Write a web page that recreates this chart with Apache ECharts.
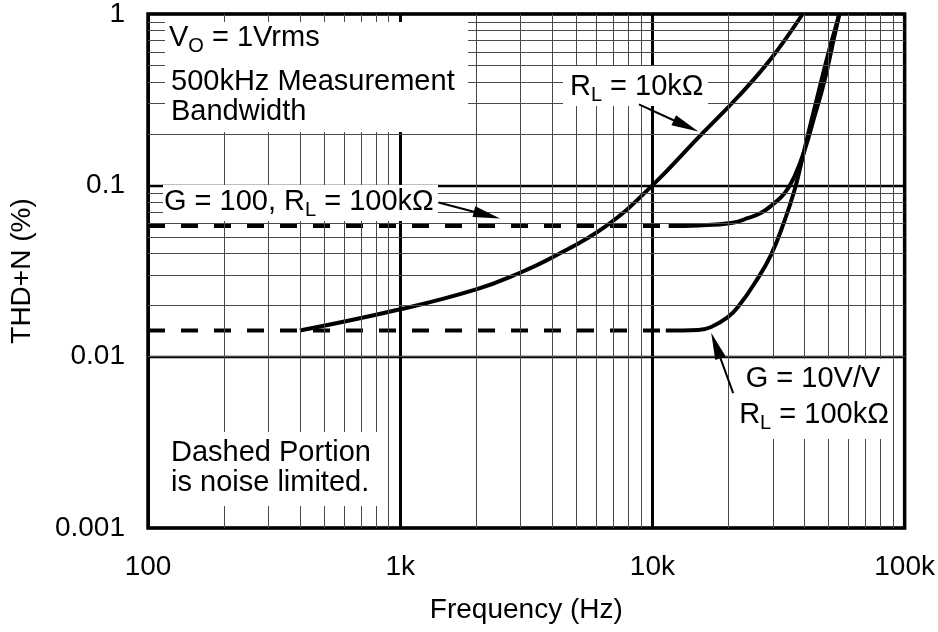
<!DOCTYPE html>
<html>
<head>
<meta charset="utf-8">
<script src="https://cdn.jsdelivr.net/npm/echarts@6/dist/echarts.min.js"></script>
<style>html,body{margin:0;padding:0;background:#fff}#c{width:938px;height:632px}</style>
</head>
<body>
<div id="c"></div>
<script>
// ---- axis ticks ----
const xTickValues = [100, 1000, 10000, 100000];
const xTickLabels = ['100', '1k', '10k', '100k'];
const yTickValues = [0.001, 0.01, 0.1, 1];
const yTickLabels = ['0.001', '0.01', '0.1', '1'];
const xMinorGrid = [200,300,400,500,600,700,800,900, 2000,3000,4000,5000,6000,7000,8000,9000, 20000,30000,40000,50000,60000,70000,80000,90000];
const yMinorGrid = [0.002,0.003,0.004,0.005,0.006,0.007,0.008,0.009, 0.02,0.03,0.04,0.05,0.06,0.07,0.08,0.09, 0.2,0.3,0.4,0.5,0.6,0.7,0.8,0.9];

// ---- series data: [frequency Hz, THD+N %] ----
const rl10kSolid = [[400,0.0142],[1000,0.0189],[2000,0.0247],[3000,0.031],[4000,0.0379],[6560,0.058],[10000,0.1],[15200,0.19],[21900,0.33],[29500,0.548],[39400,1.0]];
const g100Dashed = [[100,0.0578],[11600,0.0578]];
const g100Solid = [[11600,0.0578],[15200,0.0583],[20500,0.0603],[24000,0.0645],[26900,0.069],[29500,0.0758],[33500,0.0902],[36600,0.113],[40100,0.160],[43900,0.252],[48100,0.408],[52600,0.735],[55100,1.0]];
const g10Dashed = [[100,0.0142],[11300,0.0142]];
const g10Solid = [[11300,0.0142],[15200,0.0143],[17100,0.0149],[19900,0.0170],[21900,0.0196],[25500,0.027],[29500,0.0392],[33500,0.0629],[36600,0.0939],[38700,0.13],[41200,0.193],[45100,0.33],[49400,0.563],[54100,0.911],[55000,1.0]];

// ---- annotation arrows: [tail, tip] in data coordinates ----
const arrowRL10k = [[8840,0.297],[15200,0.206]];
const arrowG100 = [[1419,0.0794],[2488,0.0641]];
const arrowG10 = [[20900,0.00613],[17100,0.0138]];

const FONT = '"Liberation Sans", Arial, Helvetica, sans-serif';
const FS = 28, AFS = 29, SUB = 20, SUBDY = 8;

function labelOf(values, labels, v) {
  const i = values.findIndex(t => Math.abs(Math.log10(t) - Math.log10(v)) < 1e-6);
  return i >= 0 ? labels[i] : '';
}

const chart = echarts.init(document.getElementById('c'), null, {renderer: 'canvas'});

const solidStyle = {color: '#000', width: 4};
const dashStyle = {color: '#000', width: 4, type: [17, 16], cap: 'butt'};
const SMOOTH = 0.45;

const option = {
  animation: false,
  backgroundColor: '#fff',
  grid: {left: 145, top: 10, right: 30, bottom: 104, show: true, borderColor: '#000', borderWidth: 3.5, z: 3, backgroundColor: 'transparent'},
  xAxis: {
    type: 'log', logBase: 10, min: 100, max: 100000,
    name: 'Frequency (Hz)', nameLocation: 'middle', nameGap: 68,
    nameTextStyle: {fontSize: FS, fontFamily: FONT, color: '#000'},
    axisLine: {show: false}, axisTick: {show: false},
    axisLabel: {fontSize: FS, fontFamily: FONT, color: '#000', margin: 25,
      formatter: v => labelOf(xTickValues, xTickLabels, v)},
    splitLine: {show: true, lineStyle: {color: '#000', width: 3}},
    minorTick: {show: false}, minorSplitLine: {show: false}
  },
  yAxis: {
    type: 'log', logBase: 10, min: 0.001, max: 1,
    name: 'THD+N (%)', nameLocation: 'middle', nameGap: 112,
    nameTextStyle: {fontSize: FS, fontFamily: FONT, color: '#000'},
    axisLine: {show: false}, axisTick: {show: false},
    axisLabel: {fontSize: FS, fontFamily: FONT, color: '#000', margin: 23,
      formatter: v => labelOf(yTickValues, yTickLabels, v)},
    splitLine: {show: true, lineStyle: {color: '#000', width: 2.3}}
  },
  series: [
    {
      name: 'grid', type: 'line', z: 1, data: [[100, 0.001]], symbol: 'none',
      lineStyle: {opacity: 0}, silent: true,
      markLine: {
        silent: true, symbol: 'none', animation: false,
        label: {show: false},
        lineStyle: {color: '#4a4a4a', width: 1, type: 'solid'},
        data: [...xMinorGrid.map(v => ({xAxis: v})), ...yMinorGrid.map(v => ({yAxis: v}))]
      }
    },
    {name: 'RL10k', type: 'line', data: rl10kSolid, symbol: 'none', smooth: SMOOTH, lineStyle: solidStyle, z: 2},
    {name: 'G100 dashed', type: 'line', data: g100Dashed, symbol: 'none', lineStyle: dashStyle, z: 2},
    {name: 'G100', type: 'line', data: g100Solid, symbol: 'none', smooth: SMOOTH, lineStyle: solidStyle, z: 2},
    {name: 'G10 dashed', type: 'line', data: g10Dashed, symbol: 'none', lineStyle: dashStyle, z: 2},
    {name: 'G10', type: 'line', data: g10Solid, symbol: 'none', smooth: SMOOTH, lineStyle: solidStyle, z: 2}
  ]
};
chart.setOption(option);

// ---- annotations ----
const mctx = document.createElement('canvas').getContext('2d');
function measure(t, size) { mctx.font = size + 'px ' + FONT; return mctx.measureText(t).width; }

// pieces: array of [text, isSub]
function textLine(x, cy, pieces, align) {
  const widths = pieces.map(p => measure(p[0], p[1] ? SUB : AFS));
  const total = widths.reduce((a, b) => a + b, 0);
  let cx = align === 'center' ? x - total / 2 : x;
  const els = [];
  pieces.forEach((p, i) => {
    els.push({
      type: 'text', x: cx, y: cy + (p[1] ? SUBDY : 0), z: 20, silent: true,
      style: {text: p[0], fontSize: p[1] ? SUB : AFS, fontFamily: FONT, fill: '#000', align: 'left', verticalAlign: 'middle'}
    });
    cx += widths[i];
  });
  return els;
}
function box(x0, y0, x1, y1) {
  return {type: 'rect', z: 10, silent: true, shape: {x: x0, y: y0, width: x1 - x0, height: y1 - y0}, style: {fill: '#fff'}};
}
function arrow(pair) {
  const a = chart.convertToPixel({gridIndex: 0}, pair[0]);
  const b = chart.convertToPixel({gridIndex: 0}, pair[1]);
  const dx = b[0] - a[0], dy = b[1] - a[1];
  const L = Math.hypot(dx, dy), ux = dx / L, uy = dy / L;
  const HL = 27, HW = 5.5;
  const bx = b[0] - ux * HL, by = b[1] - uy * HL;
  return [
    {type: 'line', z: 20, silent: true, shape: {x1: a[0], y1: a[1], x2: bx + ux * 4, y2: by + uy * 4}, style: {stroke: '#000', lineWidth: 2}},
    {type: 'polygon', z: 20, silent: true, shape: {points: [[b[0], b[1]], [bx - uy * HW, by + ux * HW], [bx + uy * HW, by - ux * HW]]}, style: {fill: '#000'}}
  ];
}

const graphics = [
  box(165, 22, 468, 132),
  box(563, 66, 708, 106),
  box(163, 185, 438, 221),
  box(737, 359, 893, 439),
  box(163, 432, 380, 506),
  ...textLine(169, 38, [['V', false], ['O', true], [' = 1Vrms', false]]),
  ...textLine(171, 82, [['500kHz Measurement', false]]),
  ...textLine(171, 112, [['Bandwidth', false]]),
  ...textLine(570, 87, [['R', false], ['L', true], [' = 10k\u03A9', false]]),
  ...textLine(164, 202, [['G = 100, R', false], ['L', true], [' = 100k\u03A9', false]]),
  ...textLine(813, 379, [['G = 10V/V', false]], 'center'),
  ...textLine(814, 415, [['R', false], ['L', true], [' = 100k\u03A9', false]], 'center'),
  ...textLine(171, 453, [['Dashed Portion', false]]),
  ...textLine(171, 483, [['is noise limited.', false]]),
  ...arrow(arrowRL10k),
  ...arrow(arrowG100),
  ...arrow(arrowG10)
];
chart.setOption({graphic: graphics});
</script>
</body>
</html>
